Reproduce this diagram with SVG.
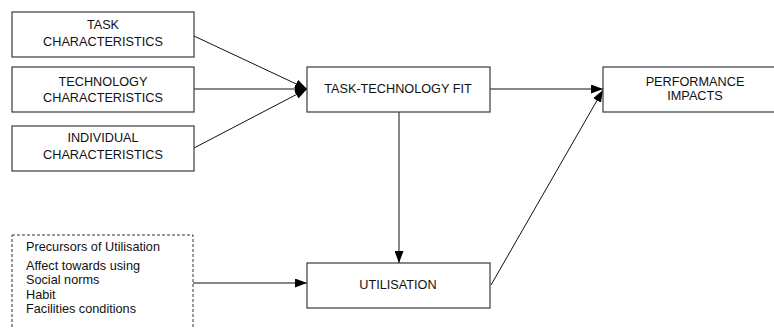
<svg xmlns="http://www.w3.org/2000/svg" width="774" height="329" viewBox="0 0 774 329">
  <style>
    .box { fill: #ffffff; stroke: #3a3a3a; stroke-width: 1.2; }
    .dash { fill: #ffffff; stroke: #333333; stroke-width: 1; stroke-dasharray: 3 2; }
    .lbl { font-family: "Liberation Sans", Arial, sans-serif; font-size: 12.7px; fill: #111111; text-anchor: middle; }
    .lst { font-family: "Liberation Sans", Arial, sans-serif; font-size: 12.7px; fill: #111111; }
    .edge { fill: none; stroke: #111111; stroke-width: 1; marker-end: url(#arrow); }
  </style>
  <defs>
    <marker id="arrow" viewBox="0 0 12 9" refX="12" refY="4.5" markerWidth="12" markerHeight="9" markerUnits="userSpaceOnUse" orient="auto">
      <path d="M0,0 L12,4.5 L0,9 Z" fill="#000000"/>
    </marker>
    <clipPath id="listClip">
      <rect x="12" y="236" width="149" height="93"/>
    </clipPath>
  </defs>
  <rect width="774" height="329" fill="#ffffff"/>

  <g id="connectors">
    <line class="edge" x1="194" y1="36" x2="307" y2="89"/>
    <line class="edge" x1="194" y1="89" x2="307" y2="89"/>
    <line class="edge" x1="194" y1="148" x2="307" y2="89"/>
    <line class="edge" x1="490" y1="89" x2="603" y2="89"/>
    <line class="edge" x1="399" y1="112" x2="399" y2="263"/>
    <line class="edge" x1="193" y1="283" x2="307" y2="283"/>
    <line class="edge" x1="491" y1="285" x2="603" y2="90"/>
  </g>

  <g id="task">
    <rect class="box" x="12" y="12" width="182" height="45"/>
    <text class="lbl" x="103" y="29">TASK</text>
    <text class="lbl" x="103" y="46">CHARACTERISTICS</text>
  </g>
  <g id="technology">
    <rect class="box" x="12" y="67" width="182" height="45"/>
    <text class="lbl" x="103" y="86">TECHNOLOGY</text>
    <text class="lbl" x="103" y="102">CHARACTERISTICS</text>
  </g>
  <g id="individual">
    <rect class="box" x="12" y="126" width="182" height="45"/>
    <text class="lbl" x="103" y="142">INDIVIDUAL</text>
    <text class="lbl" x="103" y="159">CHARACTERISTICS</text>
  </g>
  <g id="ttf">
    <rect class="box" x="307" y="67" width="183" height="45"/>
    <text class="lbl" x="398" y="93">TASK-TECHNOLOGY FIT</text>
  </g>
  <g id="performance">
    <rect class="box" x="603" y="67" width="180" height="45"/>
    <text class="lbl" x="695" y="86">PERFORMANCE</text>
    <text class="lbl" x="695" y="100">IMPACTS</text>
  </g>
  <g id="utilisation">
    <rect class="box" x="307" y="263" width="183" height="45"/>
    <text class="lbl" x="398" y="289">UTILISATION</text>
  </g>
  <g id="precursors">
    <rect class="dash" x="12" y="235" width="181" height="100"/>
    <g clip-path="url(#listClip)">
      <text class="lst" x="26" y="251">Precursors of Utilisation</text>
      <text class="lst" x="26" y="270">Affect towards using</text>
      <text class="lst" x="26" y="284">Social norms</text>
      <text class="lst" x="26" y="299">Habit</text>
      <text class="lst" x="26" y="313">Facilities conditions</text>
    </g>
  </g>
</svg>
